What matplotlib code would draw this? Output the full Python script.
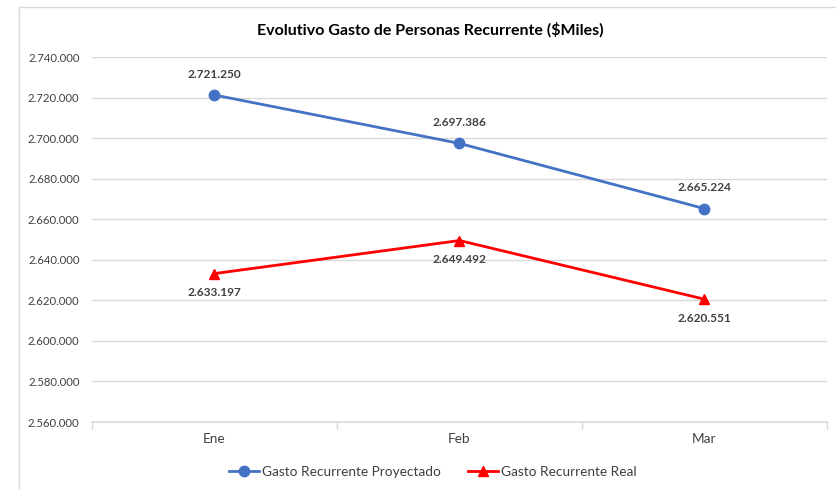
import matplotlib.pyplot as plt
from matplotlib.patches import Rectangle
from matplotlib.ticker import FuncFormatter, FixedLocator

# data
months = ['Ene', 'Feb', 'Mar']
proyectado = [2721250, 2697386, 2665224]
real = [2633197, 2649492, 2620551]

plt.rcParams['font.family'] = ['Lato', 'DejaVu Sans']

blue = '#4472C4'
red = '#FF0000'
grey_txt = '#404040'
grid_c = '#d9d9d9'


def miles(v, pos=None):
    return f'{int(round(v)):,}'.replace(',', '.')


fig = plt.figure(figsize=(8.37, 4.9), dpi=100)
ax = fig.add_axes([92 / 837, 68 / 490, 735 / 837, 365 / 490])

# chart frame (Excel-like)
fig.patches.append(Rectangle((19 / 837, -0.1), 1.0, (490 - 7) / 490 + 0.1,
                             transform=fig.transFigure, fill=False,
                             edgecolor=grid_c, linewidth=1))

x = list(range(len(months)))
ax.plot(x, proyectado, color=blue, linewidth=2, marker='o', markersize=7.5,
        label='Gasto Recurrente Proyectado', zorder=3)
ax.plot(x, real, color=red, linewidth=2, marker='^', markersize=7.5,
        label='Gasto Recurrente Real', zorder=3)

for xi, v in zip(x, proyectado):
    ax.annotate(miles(v), (xi, v), xytext=(0, 11), textcoords='offset points',
                ha='center', va='bottom', fontsize=8.6, fontweight='bold', color=grey_txt)
for xi, v in zip(x, real):
    ax.annotate(miles(v), (xi, v), xytext=(0, -10), textcoords='offset points',
                ha='center', va='top', fontsize=8.6, fontweight='bold', color=grey_txt)

ax.set_xlim(-0.5, 2.5)
ax.set_ylim(2560000, 2740000)
ax.set_yticks(range(2560000, 2740001, 20000))
ax.yaxis.set_major_formatter(FuncFormatter(miles))
ax.tick_params(axis='y', length=0, labelsize=8.2, labelcolor=grey_txt, pad=9)
ax.grid(axis='y', color=grid_c, linewidth=1)
ax.set_axisbelow(True)

ax.set_xticks(x)
ax.set_xticklabels(months)
ax.xaxis.set_minor_locator(FixedLocator([-0.5, 0.5, 1.5, 2.5]))
ax.tick_params(axis='x', which='major', length=0, labelsize=9.8, labelcolor=grey_txt, pad=8)
ax.tick_params(axis='x', which='minor', length=5, color=grid_c, width=1)

for s in ['top', 'right', 'left']:
    ax.spines[s].set_visible(False)
ax.spines['bottom'].set_color(grid_c)
ax.spines['bottom'].set_linewidth(1.2)

fig.text(430 / 837, 1 - 30 / 490, 'Evolutivo Gasto de Personas Recurrente ($Miles)',
         ha='center', va='center', fontsize=11.5, fontweight='bold', color='black')

fig.legend(loc='center', bbox_to_anchor=(433 / 837, 1 - 472 / 490), ncol=2,
           frameon=False, fontsize=9.8, labelcolor=grey_txt, handlelength=2.2,
           handletextpad=0.2, columnspacing=2.0)

fig.savefig('out.png', dpi=100, facecolor='white')
